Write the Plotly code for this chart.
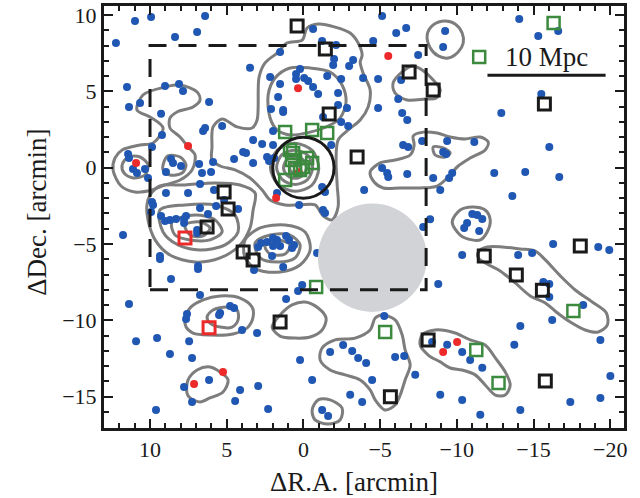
import plotly.graph_objects as go

# ---------------- data (arcmin) ----------------
blue_x = [12.22,10.98,9.93,8.37,6.93,6.41,3.48,2.17,1.52,1.52,1.65,2.11,11.50,9.02,8.11,7.85,10.65,11.37,9.28,6.15,
          9.22,6.54,6.41,5.30,3.28,2.69,1.98,1.98,9.87,11.43,11.37,11.11,10.85,10.33,10.13,8.63,8.50,7.98,8.96,6.80,
          5.89,6.61,6.02,6.74,7.52,8.96,5.83,5.17,5.69,4.26,9.87,9.80,9.93,6.74,9.28,9.02,8.70,8.30,7.78,7.65,
          7.78,6.22,6.93,6.93,11.76,9.35,9.35,6.87,6.87,8.63,2.95,2.76,2.37,1.98,1.72,1.52,2.04,1.32,1.13,0.93,
          0.74,0.61,3.22,4.52,3.93,3.74,3.28,2.37,2.24,1.91,1.72,0.28,1.32,-2.46,-2.92,-1.81,-6.44,-6.77,-6.50,-6.83,
          -7.74,-9.37,-9.11,-9.31,-5.13,-5.46,-5.53,-6.77,-8.46,-8.92,-3.96,-1.22,-1.41,-1.28,-1.41,-8.26,-7.81,-0.89,-8.79,0.08,
          1.98,-11.14,-16.03,-9.70,-9.50,-12.44,-14.46,-16.68,-13.62,-11.01,-11.33,-11.66,-10.67,-10.48,-11.46,-10.35,-14.00,-14.91,-16.28,-19.22,
          -19.94,-15.64,-16.03,-16.03,-14.07,-16.61,-15.31,-9.24,-9.11,-15.51,-12.90,-0.63,-5.13,-6.05,-6.70,-4.55,-1.22,-2.13,-2.00,-1.94,
          -3.24,-2.98,0.22,0.48,0.48,-0.05,-0.31,-1.55,-2.46,-0.63,-0.96,-2.26,-3.89,-4.87,1.32,-2.26,-2.84,-1.28,-4.87,-6.37,
          -6.18,-7.48,6.74,11.37,4.78,4.52,5.43,5.50,7.59,7.65,4.00,3.02,10.91,9.54,7.45,8.70,7.26,1.13,0.35,6.15,
          7.78,7.26,4.13,2.95,4.45,2.30,9.61,
          -5.27,-1.74,-2.59,-3.18,-3.57,-4.09,-4.48,-5.98,-6.57,-1.22,-1.61,-8.39,-9.37,-10.35,-10.87,-11.66,-13.75,-14.14,-16.22,-18.24,
          -19.36,-20.01,-19.36,-17.40,-14.14,-11.53,-10.35,-8.92,-7.29,-3.05,-3.83,-0.57,0.22]
blue_y = [8.17,9.61,9.87,8.56,8.89,9.93,6.54,5.94,7.58,5.48,4.63,3.84,5.28,5.35,5.48,5.02,4.23,3.97,3.53,4.30,
          2.14,2.40,2.60,2.73,1.81,1.55,1.49,2.40,1.36,0.90,0.64,-0.09,-0.35,-0.09,-0.67,0.57,0.31,0.11,-0.28,0.24,
          0.37,-0.35,-0.28,-1.07,-1.66,-1.66,-1.46,-2.12,-2.51,-2.71,-2.25,-2.44,-2.90,-2.64,-3.16,-3.49,-3.43,-3.36,-3.36,-3.16,
          -3.62,-3.03,-4.08,-4.28,-4.41,-5.78,-5.98,-6.44,-6.64,-7.29,-5.19,-4.93,-4.87,-5.13,-4.74,-5.13,-5.78,-6.50,-4.47,-4.74,
          -5.26,-5.06,-6.70,0.57,1.03,0.96,0.31,0.70,0.44,0.64,-1.66,-2.44,3.65,2.99,2.73,1.49,3.58,3.12,1.49,1.36,
          1.74,1.74,1.03,0.90,-0.02,-0.35,-0.61,-0.41,-0.67,-1.46,-1.46,-1.26,-1.59,-2.77,-2.97,-3.37,-3.88,-5.59,-7.62,-7.69,
          -4.60,1.68,1.35,-0.35,-0.67,-0.35,-0.28,-0.61,-1.85,-3.03,-3.10,-3.36,-3.62,-3.95,-4.15,-5.72,-5.72,-5.59,-5.00,-5.19,
          -5.39,-7.49,-7.62,-8.47,9.74,8.95,8.62,8.95,7.90,4.83,3.58,9.08,9.93,8.82,9.15,8.30,8.30,8.04,7.12,6.73,
          7.05,6.66,6.46,6.14,5.81,5.87,5.68,6.01,5.81,5.28,4.83,4.89,5.87,5.81,3.78,4.11,3.91,3.32,3.91,5.74,
          4.50,7.38,-8.34,-8.93,-9.06,-9.19,-9.52,-9.65,-9.58,-9.91,-10.63,-10.83,-11.36,-11.16,-11.36,-12.20,-12.46,-8.60,-8.08,-13.90,
          -14.36,-15.34,-14.56,-14.30,-15.28,-15.80,-15.87,
          -9.72,-12.07,-11.61,-12.00,-12.46,-12.79,-13.90,-12.40,-12.33,-15.87,-16.26,-11.42,-11.60,-12.07,-12.59,-13.11,-11.60,-10.37,-9.97,-8.99,
          -11.28,-13.64,-15.08,-15.34,-15.87,-16.19,-15.21,-14.88,-13.57,-14.88,-15.34,-13.90,-12.59]

red_x = [10.91,7.52,0.35,-5.53,1.78,5.24,7.13,-10.02,-9.11,0.30]
red_y = [0.31,1.42,5.21,7.32,-1.98,-13.39,-14.16,-11.41,-12.07,-0.30]

black_sq_x = [0.41,-1.43,-6.89,-8.46,-15.71,-1.68,-3.50,5.17,4.91,6.28,3.93,3.28,-11.79,-13.88,-15.58,-18.05,1.52,-8.13,-5.67,-15.77]
black_sq_y = [9.28,7.77,6.27,5.09,4.17,3.51,0.70,-1.59,-2.71,-3.89,-5.52,-6.05,-5.79,-7.03,-8.02,-5.13,-10.10,-11.29,-15.01,-13.97]

red_sq_x = [7.72,6.15]
red_sq_y = [-4.60,-10.49]

green_sq_x = [-16.31,-11.46,1.19,-0.57,-1.55,-0.83,-5.33,-17.60,-11.27,-12.72,1.19,0.87,0.67,0.74,0.54,0.22,-0.24,-0.57,0.02]
green_sq_y = [9.47,7.25,2.33,2.47,2.27,-7.82,-10.76,-9.39,-11.94,-14.10,-0.81,1.16,0.96,0.50,-0.02,-0.15,0.64,0.31,0.05]

# density contours (traced iso-lines, arcmin)
c_nw_x = [12.41,12.28,11.82,10.65,9.80,9.15,10.00,10.85,10.46,9.02,8.04,6.93,6.74,7.20,8.24,8.70,8.70,8.04,7.52,7.06,7.26,8.04,9.02,9.87,10.98,11.89,12.41]
c_nw_y = [-0.15,0.64,1.16,1.49,1.62,2.60,3.32,3.78,4.76,5.28,5.42,4.96,4.43,3.98,3.65,3.25,2.60,2.01,1.36,0.83,-0.15,-0.81,-1.13,-1.46,-1.59,-1.20,-0.15]
c_w_in_x = [11.82,11.43,10.65,10.13,10.33,11.10,11.69,11.82]
c_w_in_y = [0.18,0.70,0.70,0.18,-0.48,-0.67,-0.35,0.18]
c_w2_x = [9.15,8.83,8.04,7.65,7.91,8.70,9.15,9.15]
c_w2_y = [0.18,0.77,0.70,0.18,-0.35,-0.48,-0.15,0.18]
c_sw1_x = [10.00,9.35,7.72,5.76,4.13,3.15,3.28,3.48,4.13,5.43,7.06,8.70,9.67,10.13,10.20,10.00]
c_sw1_y = [-1.79,-1.20,-1.13,-1.00,-1.13,-1.66,-2.77,-3.95,-5.06,-5.91,-6.18,-5.72,-4.73,-3.42,-2.44,-1.79]
c_sw2_x = [9.35,7.72,5.76,4.46,4.26,5.11,6.74,8.17,9.15,9.35]
c_sw2_y = [-2.77,-2.44,-2.44,-3.10,-4.21,-5.06,-5.39,-5.06,-4.21,-2.77]
c_sw3_x = [8.57,7.06,5.76,5.30,6.09,7.39,8.37,8.57]
c_sw3_y = [-3.56,-3.10,-3.42,-4.21,-4.73,-4.73,-4.41,-3.56]
c_sw4_x = [7.72,6.74,6.09,6.54,7.39,7.72]
c_sw4_y = [-3.75,-3.56,-3.95,-4.47,-4.41,-3.75]
c_g1_x = [3.80,2.82,1.19,-0.11,-0.44,0.22,1.52,2.96,3.80,3.80]
c_g1_y = [-4.73,-3.95,-3.75,-4.21,-5.39,-6.37,-6.83,-6.70,-5.91,-4.73]
c_g2_x = [3.15,2.17,0.87,0.22,0.54,1.65,2.82,3.15]
c_g2_y = [-4.93,-4.41,-4.41,-5.06,-5.91,-6.18,-5.91,-4.93]
c_g3_x = [2.50,1.65,0.87,1.19,2.17,2.50]
c_g3_y = [-5.13,-4.73,-5.06,-5.65,-5.65,-5.13]
c_n1_x = [5.96,5.89,5.30,4.32,3.35,3.02,2.89,2.50,1.72,1.06,0.08,-0.24,-0.96,-2.07,-3.05,-3.57,-3.83,-3.70,-3.89,-4.35,-4.22,-3.70,
          -2.92,-2.26,-2.13,-2.20,-2.26,-1.87,-1.29,-0.76,0.22,1.19,2.17,2.69,3.48,4.46,5.43,5.96,5.96]
c_n1_y = [1.36,2.67,3.19,2.67,2.60,3.12,5.94,6.86,7.51,8.17,8.36,9.15,9.41,9.21,8.82,8.17,7.38,6.92,6.20,5.09,3.98,3.12,
          2.47,1.81,0.50,-1.13,-2.57,-3.42,-3.16,-2.44,-2.44,-2.44,-2.12,-1.46,-0.68,-0.15,0.11,0.50,1.36]
c_n2_x = [2.17,2.30,1.85,0.87,-0.44,-1.74,-2.52,-2.78,-2.39,-1.61,-0.44,0.87,1.72,2.17]
c_n2_y = [3.25,4.76,5.87,6.53,6.53,6.27,5.42,4.30,3.25,2.73,2.33,2.14,2.47,3.25]
c_core1_x = [2.15,1.70,0.55,-0.60,-1.00,-0.55,0.55,1.65,2.15]
c_core1_y = [0.00,1.15,1.60,1.10,-0.05,-1.15,-1.55,-1.10,0.00]
c_core2_x = [1.75,1.40,0.55,-0.30,-0.60,-0.25,0.55,1.35,1.75]
c_core2_y = [0.00,0.85,1.15,0.80,0.00,-0.80,-1.10,-0.80,0.00]
c_core3_x = [1.30,1.05,0.55,0.05,-0.20,0.05,0.55,1.05,1.30]
c_core3_y = [0.00,0.55,0.75,0.55,0.00,-0.50,-0.70,-0.50,0.00]
c_core4_x = [0.90,0.80,0.55,0.30,0.20,0.30,0.55,0.80,0.90]
c_core4_y = [0.00,0.25,0.35,0.25,0.00,-0.25,-0.35,-0.25,0.00]
c_ne1_x = [-8.07,-8.46,-9.24,-9.89,-10.35,-10.42,-10.09,-9.44,-8.79,-8.27,-8.07]
c_ne1_y = [8.69,9.35,9.61,9.41,8.82,8.17,7.58,7.18,7.32,7.84,8.69]
c_ne2_x = [-6.44,-7.09,-7.74,-8.46,-8.92,-8.66,-7.94,-6.76,-5.98,-5.85,-6.44]
c_ne2_y = [6.27,6.66,6.40,5.74,5.09,4.56,4.50,4.43,4.89,5.55,6.27]
c_e1_x = [-4.35,-5.00,-5.98,-6.96,-7.22,-7.16,-7.81,-8.72,-9.57,-10.55,-11.53,-12.05,-11.85,-10.87,-10.09,-9.44,-8.72,-7.61,-6.31,-5.20,-4.61,-4.35]
c_e1_y = [-0.28,0.31,0.50,0.83,1.49,2.08,2.33,2.27,2.01,1.88,2.01,1.68,1.16,0.63,0.11,-0.61,-1.20,-1.33,-1.33,-1.33,-0.94,-0.28]
c_e2_x = [-8.46,-9.11,-9.57,-9.24,-8.59,-8.46]
c_e2_y = [1.36,1.29,0.96,0.70,0.83,1.36]
c_e3_x = [-9.70,-10.22,-11.00,-11.85,-12.18,-11.98,-11.53,-11.00,-10.22,-9.70]
c_e3_y = [-3.56,-2.77,-2.57,-2.77,-3.42,-4.21,-4.73,-4.73,-4.41,-3.56]
c_band_x = [-11.40,-11.98,-14.14,-15.12,-15.77,-16.75,-17.72,-18.83,-19.75,-19.81,-19.22,-18.37,-17.40,-16.48,-15.77,-14.79,-13.81,-12.83,-11.98,-11.40,-11.40]
c_band_y = [-5.52,-5.19,-5.32,-5.46,-6.04,-7.09,-8.01,-8.80,-9.52,-10.31,-10.76,-10.63,-10.11,-9.45,-8.86,-8.40,-7.55,-6.76,-6.31,-5.91,-5.52]
c_s1_x = [7.72,7.39,6.54,5.43,4.13,3.35,3.28,3.67,4.59,6.09,7.20,7.65,7.72]
c_s1_y = [-9.97,-9.19,-8.66,-8.40,-8.54,-9.12,-9.78,-10.50,-10.89,-10.96,-10.83,-10.44,-9.97]
c_s2_x = [6.28,5.89,4.98,4.32,4.26,4.65,5.43,6.09,6.28]
c_s2_y = [-9.78,-9.32,-9.12,-9.32,-9.97,-10.44,-10.44,-10.18,-9.78]
c_s3_x = [7.59,7.52,6.93,6.09,5.43,4.91,5.24,6.09,6.74,7.39,7.59]
c_s3_y = [-14.76,-13.90,-13.25,-13.05,-13.38,-13.90,-14.69,-15.08,-15.34,-15.08,-14.76]
c_s4_x = [2.04,1.52,0.74,-0.11,-0.96,-1.48,-1.22,-0.44,0.54,1.52,2.04]
c_s4_y = [-10.44,-9.65,-8.99,-8.80,-9.19,-9.85,-10.63,-11.09,-11.16,-11.03,-10.44]
c_s5_x = [-5.13,-5.98,-6.44,-6.63,-6.96,-6.63,-6.31,-5.98,-5.33,-4.68,-4.35,-3.70,-2.72,-1.74,-1.09,-1.22,-2.07,-3.37,-4.35,-4.68,-5.13]
c_s5_y = [-9.65,-9.97,-10.96,-11.94,-12.92,-13.90,-14.89,-15.54,-15.87,-15.21,-14.56,-13.90,-13.57,-13.25,-12.59,-11.81,-11.28,-11.16,-10.63,-9.85,-9.65]
c_s6_x = [-0.57,-0.96,-1.74,-2.52,-2.39,-1.61,-0.76,-0.57]
c_s6_y = [-15.87,-15.21,-15.21,-15.74,-16.52,-16.79,-16.52,-15.87]
c_s7_x = [-7.74,-8.59,-9.89,-10.87,-11.85,-12.51,-13.16,-13.48,-13.16,-12.51,-11.85,-11.20,-10.35,-9.57,-8.92,-8.14,-7.61,-7.74]
c_s7_y = [-10.96,-10.63,-10.83,-11.28,-11.61,-12.46,-13.38,-14.23,-14.89,-14.89,-14.23,-13.57,-13.25,-13.12,-12.72,-12.27,-11.61,-10.96]

contours = [(c_nw_x, c_nw_y), (c_w_in_x, c_w_in_y), (c_w2_x, c_w2_y),
            (c_sw1_x, c_sw1_y), (c_sw2_x, c_sw2_y), (c_sw3_x, c_sw3_y), (c_sw4_x, c_sw4_y),
            (c_g1_x, c_g1_y), (c_g2_x, c_g2_y), (c_g3_x, c_g3_y),
            (c_n1_x, c_n1_y), (c_n2_x, c_n2_y),
            (c_core1_x, c_core1_y), (c_core2_x, c_core2_y), (c_core3_x, c_core3_y), (c_core4_x, c_core4_y),
            (c_ne1_x, c_ne1_y), (c_ne2_x, c_ne2_y), (c_e1_x, c_e1_y), (c_e2_x, c_e2_y), (c_e3_x, c_e3_y),
            (c_band_x, c_band_y), (c_s1_x, c_s1_y), (c_s2_x, c_s2_y), (c_s3_x, c_s3_y),
            (c_s4_x, c_s4_y), (c_s5_x, c_s5_y), (c_s6_x, c_s6_y), (c_s7_x, c_s7_y)]

# survey region, masked area, core circle, scale bar
box_ra = [10, -8]
box_dec = [-8, 8]
mask_center = (-4.5, -5.9)
mask_radius = 3.55
core_radius = 2.0
scalebar_ra = [-12.0, -19.7]
scalebar_dec = 6.06
scalebar_label = "10 Mpc"

x_ticks = [10, 5, 0, -5, -10, -15, -20]
y_ticks = [10, 5, 0, -5, -10, -15]
x_title = "\u0394R.A. [arcmin]"
y_title = "\u0394Dec. [arcmin]"

def lab(v):
    return str(v) if v >= 0 else "\u2212" + str(-v)

# ---------------- figure ----------------
BLUE = "#1f57b3"
RED = "#ec2a2a"
GREEN = "#3b8a3e"
INK = "#1a1a1a"
GRAY = "#7d7d7d"
FONT = "Liberation Serif"

fig = go.Figure()

for cx, cy in contours:
    fig.add_trace(go.Scatter(x=cx, y=cy, mode="lines",
                             line=dict(color=GRAY, width=3, shape="spline", smoothing=0.9),
                             hoverinfo="skip"))

fig.add_trace(go.Scatter(x=blue_x, y=blue_y, mode="markers",
                         marker=dict(color=BLUE, size=8), hoverinfo="skip"))
fig.add_trace(go.Scatter(x=red_x, y=red_y, mode="markers",
                         marker=dict(color=RED, size=8), hoverinfo="skip"))
fig.add_trace(go.Scatter(x=black_sq_x, y=black_sq_y, mode="markers",
                         marker=dict(symbol="square-open", color=INK, size=12,
                                     line=dict(width=3, color=INK)), hoverinfo="skip"))
fig.add_trace(go.Scatter(x=green_sq_x, y=green_sq_y, mode="markers",
                         marker=dict(symbol="square-open", color=GREEN, size=12,
                                     line=dict(width=2.5, color=GREEN)), hoverinfo="skip"))
fig.add_trace(go.Scatter(x=red_sq_x, y=red_sq_y, mode="markers",
                         marker=dict(symbol="square-open", color=RED, size=12,
                                     line=dict(width=3, color=RED)), hoverinfo="skip"))

fig.add_shape(type="circle", xref="x", yref="y",
              x0=mask_center[0] - mask_radius, x1=mask_center[0] + mask_radius,
              y0=mask_center[1] - mask_radius, y1=mask_center[1] + mask_radius,
              fillcolor="#d2d3d6", line=dict(width=0), layer="above")
fig.add_shape(type="circle", xref="x", yref="y",
              x0=-core_radius, x1=core_radius, y0=-core_radius, y1=core_radius,
              line=dict(color=INK, width=3), layer="above")
fig.add_shape(type="rect", xref="x", yref="y",
              x0=box_ra[0], x1=box_ra[1], y0=box_dec[0], y1=box_dec[1],
              line=dict(color=INK, width=3, dash="18px,12px"), layer="above")
fig.add_shape(type="line", xref="x", yref="y",
              x0=scalebar_ra[0], x1=scalebar_ra[1], y0=scalebar_dec, y1=scalebar_dec,
              line=dict(color=INK, width=3))
fig.add_annotation(x=sum(scalebar_ra) / 2, y=scalebar_dec, text=scalebar_label,
                   showarrow=False, yanchor="bottom", yshift=1,
                   font=dict(family=FONT, size=27, color=INK))

fig.add_annotation(xref="paper", yref="paper", x=0.48, y=0, yshift=-54, yanchor="middle",
                   text=x_title, showarrow=False, font=dict(family=FONT, size=27, color=INK))
fig.add_annotation(xref="paper", yref="paper", x=0, y=0.51, xshift=-67, xanchor="center",
                   yanchor="middle", textangle=-90,
                   text=y_title, showarrow=False, font=dict(family=FONT, size=27, color=INK))

axis_common = dict(showline=True, linecolor=INK, linewidth=3, mirror="ticks",
                   ticks="inside", ticklen=9, tickwidth=1.5, tickcolor=INK,
                   showgrid=False, zeroline=False, automargin=False,
                   tickfont=dict(family=FONT, size=22, color=INK),
                   minor=dict(ticks="inside", ticklen=5, tickwidth=1.5, dtick=1,
                              tickcolor=INK, showgrid=False))

fig.update_xaxes(range=[13.0, -20.9], tickvals=x_ticks, ticktext=[lab(v) for v in x_ticks],
                 **axis_common)
fig.update_yaxes(range=[-17.05, 10.59], tickvals=y_ticks, ticktext=[lab(v) for v in y_ticks],
                 **axis_common)

fig.update_layout(width=640, height=498, showlegend=False,
                  margin=dict(l=104, r=16, t=6, b=70),
                  plot_bgcolor="white", paper_bgcolor="white")

fig.write_html("out.html", config={"displayModeBar": False},
               post_script="document.body.style.margin='0';document.body.style.overflow='hidden';")
